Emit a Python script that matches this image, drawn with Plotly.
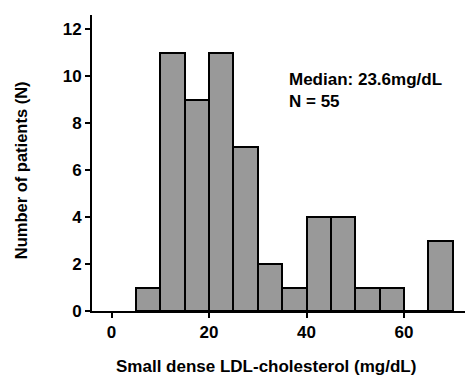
import plotly.graph_objects as go

bin_starts = [5, 10, 15, 20, 25, 30, 35, 40, 45, 50, 55, 60, 65]
counts = [1, 11, 9, 11, 7, 2, 1, 4, 4, 1, 1, 0, 3]
bin_width = 5
x_ticks = [0, 20, 40, 60]
y_ticks = [0, 2, 4, 6, 8, 10, 12]

centers = [s + bin_width / 2 for s in bin_starts]

fig = go.Figure(go.Bar(
    x=centers, y=counts, width=[bin_width] * len(counts),
    marker=dict(color="#999999", line=dict(color="black", width=2)),
))

font_family = "Liberation Sans, Arial, sans-serif"
fig.update_layout(
    width=466, height=376,
    margin=dict(l=92, r=1, t=15, b=65),
    plot_bgcolor="white", paper_bgcolor="white",
    showlegend=False,
    font=dict(family=font_family, color="black"),
    bargap=0,
)
fig.update_xaxes(
    range=[-4, 72.5], tickvals=x_ticks, ticks="outside", ticklen=5, tickwidth=2,
    tickcolor="black", showline=True, linecolor="black", linewidth=2,
    showgrid=False, zeroline=False,
    tickfont=dict(size=17, family=font_family, weight="bold"),
)
fig.update_yaxes(
    range=[0, 12.6], tickvals=y_ticks, ticks="outside", ticklen=5, tickwidth=2,
    tickcolor="black", showline=True, linecolor="black", linewidth=2,
    showgrid=False, zeroline=False,
    tickfont=dict(size=17, family=font_family, weight="bold"),
)
fig.add_annotation(
    x=0.4665, y=-0.189, xref="paper", yref="paper", xanchor="center", yanchor="middle",
    showarrow=False, text="<b>Small dense LDL-cholesterol (mg/dL)</b>",
    font=dict(size=17, family=font_family, color="black"),
)
fig.add_annotation(
    x=-0.190, y=0.476, xref="paper", yref="paper", xanchor="center", yanchor="middle",
    showarrow=False, textangle=-90, text="<b>Number of patients (N)</b>",
    font=dict(size=16.5, family=font_family, color="black"),
)
fig.add_annotation(
    x=0.523, y=0.82, xref="paper", yref="paper", xanchor="left", yanchor="top",
    align="left", showarrow=False,
    text="<b>Median: 23.6mg/dL<br>N = 55</b>",
    font=dict(size=17, family=font_family, color="black"),
)
fig.write_html("out.html", config={"displayModeBar": False},
               post_script="document.body.style.margin='0';")
